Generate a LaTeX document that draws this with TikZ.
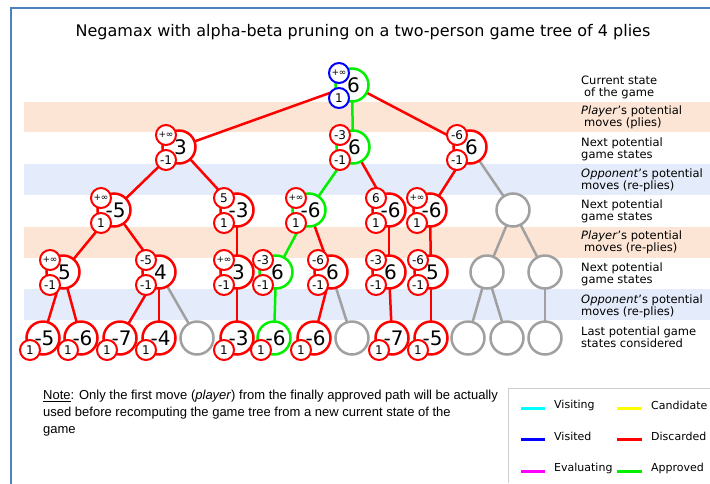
\documentclass[tikz,border=0pt]{standalone}
\usepackage{fontspec}
\setmainfont{DejaVu Sans}
\newfontfamily\notefont{Liberation Sans}
\usetikzlibrary{calc}
\definecolor{cRed}{RGB}{255,0,0}
\definecolor{cGreen}{RGB}{0,240,0}
\definecolor{cBlue}{RGB}{0,0,255}
\definecolor{cGray}{RGB}{160,160,160}
\definecolor{cCyan}{RGB}{0,255,255}
\definecolor{cMagenta}{RGB}{255,0,255}
\definecolor{cYellow}{RGB}{255,255,0}
\definecolor{bandO}{RGB}{253,229,213}
\definecolor{bandB}{RGB}{228,235,250}
\definecolor{frameBlue}{RGB}{79,129,189}
\definecolor{legBorder}{RGB}{205,205,205}
\pgfdeclarelayer{bands}
\pgfdeclarelayer{edges}
\pgfsetlayers{bands,edges,main}
\tikzset{
  big/.style={circle,fill=white,line width=2.5pt,minimum size=33pt,inner sep=0pt,font=\fontsize{20}{20}\selectfont},
  small/.style={circle,fill=white,line width=2pt,minimum size=20pt,inner sep=0pt,font=\fontsize{12}{12}\selectfont},
  edge/.style={line width=2.5pt},
  lbl/.style={anchor=west,align=left,inner sep=0pt,font=\fontsize{11.5}{12}\selectfont},
  legline/.style={line width=3pt},
  legtxt/.style={anchor=west,inner sep=0pt,font=\fontsize{11}{12}\selectfont}
}
\newcommand{\pinf}{{\fontsize{9}{9}\selectfont +\hspace{-0.5pt}∞}}
% name, x, y, bigcolor, smallcolor, value, top, bottom
\newcommand{\tnode}[8]{%
  \node[big,draw=#4] (#1) at (#2,#3) {\hspace{3pt}#6};
  \node[small,draw=#5] (#1t) at ([shift={(-13,-12)}]#1.center) {#7};
  \node[small,draw=#5] (#1b) at ([shift={(-13,13)}]#1.center) {#8};
}
% leaf: name, x, bigcolor, smallcolor, value
\newcommand{\lnode}[5]{%
  \node[big,draw=#3] (#1) at (#2,338) {\hspace{3pt}#5};
  \node[small,draw=#4] (#1b) at ([shift={(-13,12)}]#1.center) {1};
}
\newcommand{\gnode}[3]{%
  \node[big,draw=cGray] (#1) at (#2,#3) {};
}
\begin{document}
\begin{tikzpicture}[x=1pt,y=-1pt]
\useasboundingbox (0,0) rectangle (710,483);
% frame
\draw[frameBlue,line width=2pt] (11,484) -- (11,8) -- (711,8);
% bands
\begin{pgfonlayer}{bands}
\fill[bandO] (24,102) rectangle (710,132);
\fill[bandB] (24,164) rectangle (710,195);
\fill[bandO] (24,227) rectangle (710,258);
\fill[bandB] (24,289) rectangle (710,320);
\end{pgfonlayer}
% title
\node[font=\fontsize{16}{18}\selectfont,inner sep=0pt] (title) at (363,32) {Negamax with alpha-beta pruning on a two-person game tree of 4 plies};
% tree nodes
\tnode{r}{352}{85}{cGreen}{cBlue}{6}{\pinf}{1}
\tnode{a}{179}{147}{cRed}{cRed}{3}{\pinf}{-1}
\tnode{b}{353}{147}{cGreen}{cRed}{6}{-3}{-1}
\tnode{c}{470}{147}{cRed}{cRed}{6}{-6}{-1}
\tnode{aa}{114}{210}{cRed}{cRed}{-5}{\pinf}{1}
\tnode{ab}{237}{210}{cRed}{cRed}{-3}{5}{1}
\tnode{ba}{309}{210}{cGreen}{cRed}{-6}{\pinf}{1}
\tnode{bb}{389}{210}{cRed}{cRed}{-6}{6}{1}
\tnode{ca}{430}{210}{cRed}{cRed}{-6}{\pinf}{1}
\gnode{cb}{513}{210}
\tnode{aaa}{63}{272}{cRed}{cRed}{5}{\pinf}{-1}
\tnode{aab}{159}{272}{cRed}{cRed}{4}{-5}{-1}
\tnode{aba}{237}{272}{cRed}{cRed}{3}{\pinf}{-1}
\tnode{baa}{276}{272}{cGreen}{cRed}{6}{-3}{-1}
\tnode{bab}{331}{272}{cRed}{cRed}{6}{-6}{-1}
\tnode{bba}{389}{272}{cRed}{cRed}{6}{-3}{-1}
\tnode{caa}{431}{272}{cRed}{cRed}{5}{-6}{-1}
\gnode{cba}{487}{272}
\gnode{cbb}{545}{272}
\lnode{l1}{43}{cRed}{cRed}{-5}
\lnode{l2}{81}{cRed}{cRed}{-6}
\lnode{l3}{120}{cRed}{cRed}{-7}
\lnode{l4}{159}{cRed}{cRed}{-4}
\gnode{l5}{197}{338}
\lnode{l6}{237}{cRed}{cRed}{-3}
\lnode{l7}{274}{cGreen}{cRed}{-6}
\lnode{l8}{314}{cRed}{cRed}{-6}
\gnode{l9}{352}{338}
\lnode{l10}{392}{cRed}{cRed}{-7}
\lnode{l11}{431}{cRed}{cRed}{-5}
\gnode{l12}{468}{338}
\gnode{l13}{507}{338}
\gnode{l14}{545}{338}
% edges
\begin{pgfonlayer}{edges}
\draw[edge,cRed] (r.center) -- (a.center);
\draw[edge,cGreen] (r.center) -- (b.center);
\draw[edge,cRed] (r.center) -- (c.center);
\draw[edge,cRed] (a.center) -- (aa.center);
\draw[edge,cRed] (a.center) -- (ab.center);
\draw[edge,cGreen] (b.center) -- (ba.center);
\draw[edge,cRed] (b.center) -- (bb.center);
\draw[edge,cRed] (c.center) -- (ca.center);
\draw[edge,cGray] (c.center) -- (cb.center);
\draw[edge,cRed] (aa.center) -- (aaa.center);
\draw[edge,cRed] (aa.center) -- (aab.center);
\draw[edge,cRed] (ab.center) -- (aba.center);
\draw[edge,cGreen] (ba.center) -- (baa.center);
\draw[edge,cRed] (ba.center) -- (bab.center);
\draw[edge,cRed] (bb.center) -- (bba.center);
\draw[edge,cRed] (ca.center) -- (caa.center);
\draw[edge,cGray] (cb.center) -- (cba.center);
\draw[edge,cGray] (cb.center) -- (cbb.center);
\draw[edge,cRed] (aaa.center) -- (l1.center);
\draw[edge,cRed] (aaa.center) -- (l2.center);
\draw[edge,cRed] (aab.center) -- (l3.center);
\draw[edge,cRed] (aab.center) -- (l4.center);
\draw[edge,cGray] (aab.center) -- (l5.center);
\draw[edge,cRed] (aba.center) -- (l6.center);
\draw[edge,cGreen] (baa.center) -- (l7.center);
\draw[edge,cRed] (bab.center) -- (l8.center);
\draw[edge,cGray] (bab.center) -- (l9.center);
\draw[edge,cRed] (bba.center) -- (l10.center);
\draw[edge,cRed] (caa.center) -- (l11.center);
\draw[edge,cGray] (cba.center) -- (l12.center);
\draw[edge,cGray] (cba.center) -- (l13.center);
\draw[edge,cGray] (cbb.center) -- (l14.center);
\end{pgfonlayer}
% right labels
\node[lbl] (t1) at (581,87) {Current state\\\hspace{3pt}of the game};
\node[lbl] (t2) at (581,117.5) {\textit{Player}'s potential\\\hspace{3pt}moves (plies)};
\node[lbl] (t3) at (581,149) {Next potential\\game states};
\node[lbl] (t4) at (581,180) {\textit{Opponent}'s potential\\moves (re-plies)};
\node[lbl] (t5) at (581,211.5) {Next potential\\game states};
\node[lbl] (t6) at (581,242.5) {\textit{Player}'s potential\\\hspace{3pt}moves (re-plies)};
\node[lbl] (t7) at (581,274.5) {Next potential\\game states};
\node[lbl] (t8) at (581,306) {\textit{Opponent}'s potential\\moves (re-plies)};
\node[lbl] (t9) at (581,337.5) {Last potential game\\states considered};
% note
\node[anchor=north west,align=left,inner sep=0pt,font=\notefont\fontsize{13}{17}\selectfont] (note) at (43,390)
 {\underline{Note}: Only the first move (\textit{player}) from the finally approved path will be actually\\
  used before recomputing the game tree from a new current state of the\\
  game};
% legend
\draw[legBorder,line width=1pt] (508,483) -- (508,388) -- (711,388);
\coordinate (v1) at (521,408); \coordinate (v2) at (545,408);
\coordinate (d1) at (521,439); \coordinate (d2) at (545,439);
\coordinate (e1) at (521,471); \coordinate (e2) at (545,471);
\coordinate (c1) at (617,408); \coordinate (c2) at (642,408);
\coordinate (x1) at (617,439); \coordinate (x2) at (642,439);
\coordinate (g1) at (617,471); \coordinate (g2) at (642,471);
\draw[legline,cCyan] (v1) -- (v2);
\draw[legline,cBlue] (d1) -- (d2);
\draw[legline,cMagenta] (e1) -- (e2);
\draw[legline,cYellow] (c1) -- (c2);
\draw[legline,cRed] (x1) -- (x2);
\draw[legline,cGreen] (g1) -- (g2);
\node[legtxt] (lv) at (554,405) {Visiting};
\node[legtxt] (ld) at (554,436) {Visited};
\node[legtxt] (le) at (554,468) {Evaluating};
\node[legtxt] (lc) at (651,405) {Candidate};
\node[legtxt] (lx) at (651,436) {Discarded};
\node[legtxt] (lg) at (651,468) {Approved};
\end{tikzpicture}
\end{document}
